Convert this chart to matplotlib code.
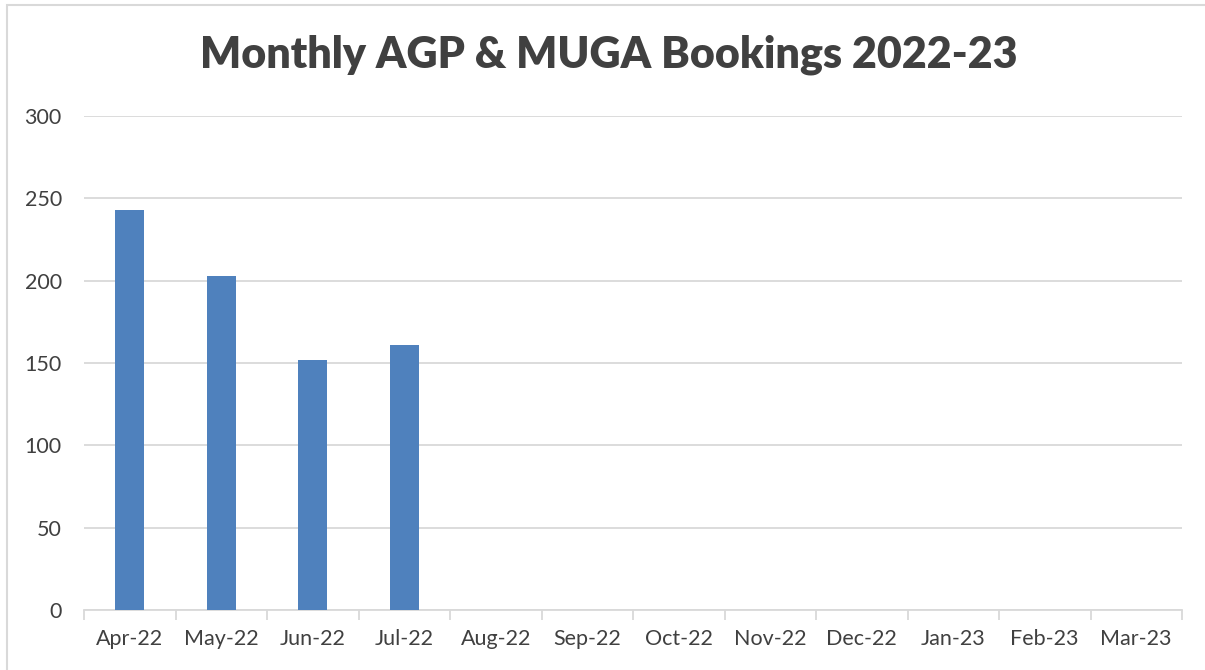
import matplotlib.pyplot as plt
from matplotlib.patches import Rectangle

months = ['Apr-22', 'May-22', 'Jun-22', 'Jul-22', 'Aug-22', 'Sep-22',
          'Oct-22', 'Nov-22', 'Dec-22', 'Jan-23', 'Feb-23', 'Mar-23']
bookings = [243, 203, 152, 161, 0, 0, 0, 0, 0, 0, 0, 0]

plt.rcParams['font.family'] = ['Lato', 'DejaVu Sans']

fig = plt.figure(figsize=(12.05, 6.7), dpi=100)
ax = fig.add_axes([84/1205, 1 - 610/670, (1182 - 84)/1205, (610 - 116)/670])

x = list(range(len(months)))
ax.bar(x, bookings, width=0.32, color='#4F81BD', zorder=3)

ax.set_xlim(-0.5, len(months) - 0.5)
ax.set_ylim(0, 300)
ax.set_yticks(range(0, 301, 50))
ax.grid(axis='y', color='#D9D9D9', linewidth=1.3, zorder=0)

ax.set_xticks(x)
ax.set_xticklabels(months)
ax.set_xticks([i - 0.5 for i in range(len(months) + 1)], minor=True)
ax.tick_params(axis='x', which='major', length=0, pad=14, labelsize=15.5, labelcolor='#404040')
ax.tick_params(axis='x', which='minor', length=7, color='#D9D9D9', width=1.3)
ax.tick_params(axis='y', length=0, pad=16, labelsize=15.5, labelcolor='#404040')

for s in ['top', 'right', 'left']:
    ax.spines[s].set_visible(False)
ax.spines['bottom'].set_color('#D9D9D9')
ax.spines['bottom'].set_linewidth(1.3)

fig.text(0.505, 1 - 55/670, 'Monthly AGP & MUGA Bookings 2022-23', ha='center', va='center',
         fontsize=31, fontweight='heavy', color='#404040')

fig.patches.append(Rectangle((7/1205, -0.1), 1.2, 1 - 5/670 + 0.1, transform=fig.transFigure,
                             fill=False, edgecolor='#D9D9D9', linewidth=1.5))

fig.savefig('out.png', dpi=100)
